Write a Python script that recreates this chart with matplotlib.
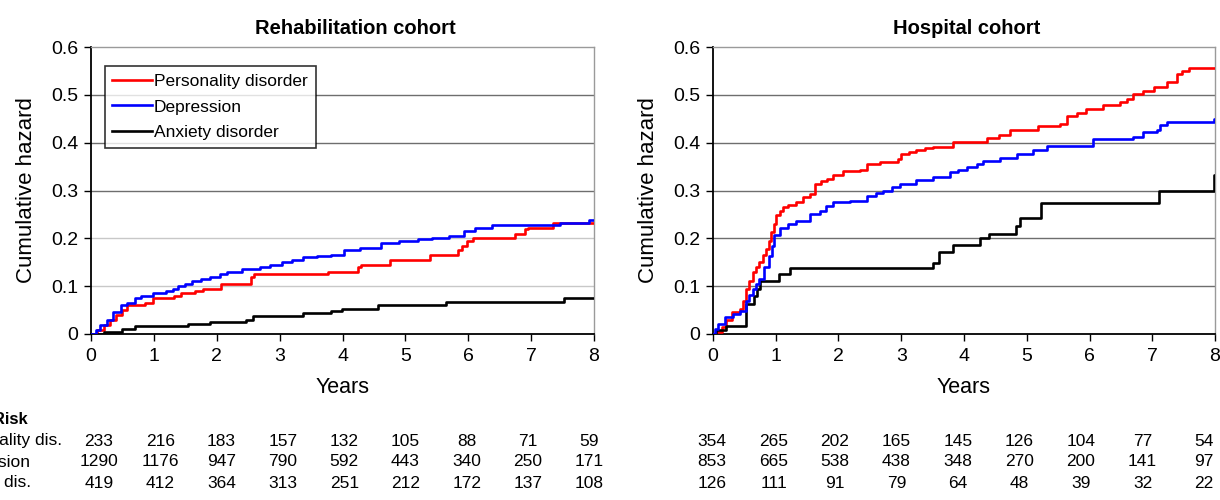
import matplotlib
matplotlib.use("Agg")
import matplotlib.pyplot as plt

plt.rcParams['font.family'] = ['Liberation Sans', 'DejaVu Sans']

# cumulative hazard step curves (time in years, value after the step)
rehab_pers_t = [0, 0.1, 0.2, 0.3, 0.4, 0.5, 0.58, 0.86, 0.98, 1.32, 1.43, 1.66, 1.78, 2.06, 2.55, 2.6, 3.77, 4.25, 4.3, 4.76, 5.39, 5.84, 5.9, 5.98, 6.07, 6.75, 6.9, 6.95, 7.35, 8.0]
rehab_pers_y = [0, 0.008, 0.018, 0.03, 0.04, 0.05, 0.06, 0.065, 0.075, 0.08, 0.085, 0.09, 0.095, 0.105, 0.12, 0.125, 0.13, 0.14, 0.145, 0.155, 0.165, 0.175, 0.185, 0.195, 0.2, 0.21, 0.22, 0.222, 0.232, 0.232]

rehab_dep_t = [0, 0.08, 0.15, 0.25, 0.35, 0.47, 0.58, 0.7, 0.8, 0.98, 1.2, 1.3, 1.38, 1.5, 1.6, 1.75, 1.89, 2.05, 2.17, 2.4, 2.69, 2.85, 3.03, 3.2, 3.37, 3.6, 3.82, 4.02, 4.28, 4.62, 4.9, 5.2, 5.42, 5.7, 5.93, 6.1, 6.38, 7.46, 7.92, 8.0]
rehab_dep_y = [0, 0.008, 0.018, 0.03, 0.045, 0.06, 0.065, 0.075, 0.08, 0.085, 0.09, 0.095, 0.1, 0.105, 0.11, 0.115, 0.12, 0.125, 0.13, 0.135, 0.14, 0.145, 0.15, 0.155, 0.16, 0.163, 0.165, 0.175, 0.18, 0.19, 0.195, 0.198, 0.2, 0.205, 0.215, 0.222, 0.228, 0.233, 0.238, 0.238]

rehab_anx_t = [0, 0.2, 0.5, 0.7, 1.55, 1.89, 2.46, 2.57, 3.37, 3.82, 3.99, 4.56, 5.64, 7.52, 8.0]
rehab_anx_y = [0, 0.005, 0.01, 0.016, 0.021, 0.026, 0.03, 0.037, 0.043, 0.048, 0.053, 0.06, 0.066, 0.075, 0.075]

hosp_pers_t = [0, 0.05, 0.15, 0.2, 0.3, 0.43, 0.48, 0.53, 0.58, 0.64, 0.69, 0.74, 0.8, 0.85, 0.89, 0.93, 0.97, 1.01, 1.06, 1.12, 1.2, 1.33, 1.44, 1.54, 1.62, 1.72, 1.81, 1.91, 2.07, 2.34, 2.45, 2.66, 2.95, 3.0, 3.12, 3.24, 3.38, 3.51, 3.83, 4.36, 4.55, 4.73, 5.18, 5.53, 5.64, 5.8, 5.95, 6.22, 6.49, 6.6, 6.7, 6.85, 7.02, 7.23, 7.39, 7.48, 7.58, 8.0]
hosp_pers_y = [0, 0.005, 0.015, 0.03, 0.045, 0.052, 0.07, 0.094, 0.11, 0.129, 0.14, 0.15, 0.165, 0.178, 0.195, 0.213, 0.23, 0.248, 0.258, 0.265, 0.27, 0.276, 0.286, 0.293, 0.314, 0.32, 0.324, 0.333, 0.34, 0.342, 0.356, 0.36, 0.365, 0.377, 0.38, 0.384, 0.388, 0.391, 0.401, 0.41, 0.415, 0.427, 0.434, 0.44, 0.456, 0.462, 0.471, 0.478, 0.485, 0.492, 0.502, 0.509, 0.516, 0.527, 0.544, 0.55, 0.556, 0.556]

hosp_dep_t = [0, 0.03, 0.08, 0.19, 0.32, 0.43, 0.53, 0.58, 0.64, 0.69, 0.74, 0.82, 0.9, 0.94, 0.98, 1.06, 1.2, 1.33, 1.54, 1.7, 1.8, 1.91, 2.18, 2.45, 2.6, 2.71, 2.85, 2.98, 3.24, 3.51, 3.78, 3.9, 4.04, 4.2, 4.31, 4.57, 4.84, 5.1, 5.32, 5.8, 6.06, 6.7, 6.86, 7.07, 7.12, 7.23, 7.98, 8.0]
hosp_dep_y = [0, 0.01, 0.021, 0.035, 0.042, 0.049, 0.07, 0.082, 0.094, 0.105, 0.115, 0.14, 0.164, 0.185, 0.206, 0.221, 0.23, 0.237, 0.251, 0.258, 0.268, 0.276, 0.279, 0.288, 0.295, 0.3, 0.307, 0.314, 0.321, 0.328, 0.338, 0.343, 0.349, 0.355, 0.361, 0.368, 0.377, 0.385, 0.393, 0.394, 0.408, 0.412, 0.422, 0.426, 0.436, 0.443, 0.449, 0.449]

hosp_anx_t = [0, 0.04, 0.2, 0.53, 0.65, 0.7, 0.75, 0.85, 1.05, 1.22, 3.5, 3.6, 3.82, 4.25, 4.4, 4.83, 4.9, 5.22, 7.1, 7.99, 8.0]
hosp_anx_y = [0, 0.008, 0.017, 0.063, 0.08, 0.095, 0.11, 0.11, 0.125, 0.137, 0.148, 0.171, 0.186, 0.2, 0.21, 0.225, 0.243, 0.273, 0.3, 0.333, 0.333]

years = list(range(9))

risk_labels = ['Personality dis.', 'Depression', 'Anxiety dis.']
rehab_pers_risk = [233, 216, 183, 157, 132, 105, 88, 71, 59]
rehab_dep_risk = [1290, 1176, 947, 790, 592, 443, 340, 250, 171]
rehab_anx_risk = [419, 412, 364, 313, 251, 212, 172, 137, 108]
hosp_pers_risk = [354, 265, 202, 165, 145, 126, 104, 77, 54]
hosp_dep_risk = [853, 665, 538, 438, 348, 270, 200, 141, 97]
hosp_anx_risk = [126, 111, 91, 79, 64, 48, 39, 32, 22]

fig = plt.figure(figsize=(12.2, 5), dpi=100)
W, H = 1220, 500


def make_axes(left_px, right_px):
    return fig.add_axes([left_px / W, 1 - 334 / H, (right_px - left_px) / W, (334 - 47) / H])


ax1 = make_axes(91, 594)
ax2 = make_axes(713, 1215)


def style(ax, title, light=(), tx=0.5):
    ax.set_xlim(0, 8)
    ax.set_ylim(0, 0.6)
    ax.set_xticks(years)
    ax.set_yticks([0, 0.1, 0.2, 0.3, 0.4, 0.5, 0.6])
    ax.set_yticklabels(['0', '0.1', '0.2', '0.3', '0.4', '0.5', '0.6'])
    for v in [0.1, 0.2, 0.3, 0.4, 0.5]:
        c = '#c8c8c8' if v in light else '#6e6e6e'
        ax.axhline(v, color=c, lw=1.0, zorder=1)
    ax.tick_params(axis='both', labelsize=14, direction='out', length=5, width=1, colors='black')
    ax.tick_params(axis='x', pad=5)
    ax.tick_params(axis='y', pad=4)
    for s in ['left', 'bottom']:
        ax.spines[s].set_color('black')
        ax.spines[s].set_linewidth(1.3)
    for s in ['top', 'right']:
        ax.spines[s].set_color('#9a9a9a')
        ax.spines[s].set_linewidth(1.0)
    ax.set_ylabel('Cumulative hazard', fontsize=16, labelpad=10)
    ax.set_xlabel('Years', fontsize=15.5, labelpad=9)
    ax.set_title(title, fontsize=14.5, fontweight='bold', pad=9, x=tx)


style(ax1, 'Rehabilitation cohort', light=(0.1, 0.2), tx=0.525)
style(ax2, 'Hospital cohort', tx=0.505)

ax1.step(rehab_pers_t, rehab_pers_y, where='post', color='#ff0000', lw=1.9, label='Personality disorder', zorder=3)
ax1.step(rehab_dep_t, rehab_dep_y, where='post', color='#0000ff', lw=1.9, label='Depression', zorder=4)
ax1.step(rehab_anx_t, rehab_anx_y, where='post', color='black', lw=1.9, label='Anxiety disorder', zorder=3)

ax2.step(hosp_pers_t, hosp_pers_y, where='post', color='#ff0000', lw=1.9, zorder=3)
ax2.step(hosp_dep_t, hosp_dep_y, where='post', color='#0000ff', lw=1.9, zorder=4)
ax2.step(hosp_anx_t, hosp_anx_y, where='post', color='black', lw=1.9, zorder=3)

leg = ax1.legend(loc='upper left', bbox_to_anchor=(0.027, 0.935), fontsize=12.5, frameon=True,
                 fancybox=False, edgecolor='black', handlelength=2.3, handletextpad=0.1,
                 borderpad=0.45, labelspacing=0.62, borderaxespad=0)
leg.get_frame().set_linewidth(1.2)

# number at risk table
row_y = [441, 462, 483]
fig.text(28 / W, 1 - 420 / H, 'Number at Risk', ha='right', va='center', fontsize=12, fontweight='bold')
label_right = [62, 31, 31]
for lab, xr, ry in zip(risk_labels, label_right, row_y):
    fig.text(xr / W, 1 - ry / H, lab, ha='right', va='center', fontsize=12.5)

left_rows = [rehab_pers_risk, rehab_dep_risk, rehab_anx_risk]
right_rows = [hosp_pers_risk, hosp_dep_risk, hosp_anx_risk]
for vals, ry in zip(left_rows, row_y):
    for i, v in enumerate(vals):
        xp = 99 + i * 61.3
        fig.text(xp / W, 1 - ry / H, str(v), ha='center', va='center', fontsize=12.5)
for vals, ry in zip(right_rows, row_y):
    for i, v in enumerate(vals):
        xp = 712 + i * 61.5
        fig.text(xp / W, 1 - ry / H, str(v), ha='center', va='center', fontsize=12.5)

fig.savefig('out.png', dpi=100)
